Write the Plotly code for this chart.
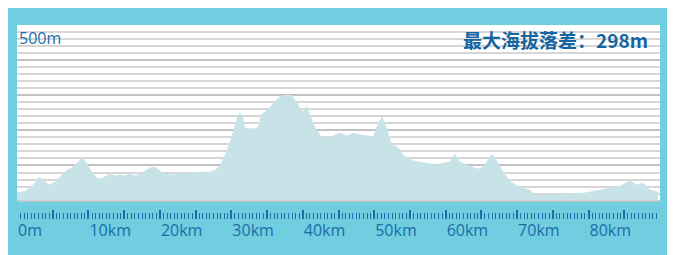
import plotly.graph_objects as go

# distance along route (km) and elevation (m)
dist_km = [0, 1.12, 1.82, 2.52, 3.08, 3.78, 4.48, 5.32, 6.30, 7.00, 7.70, 8.40, 9.24, 9.80,
           10.50, 11.20, 11.76, 12.46, 13.02, 13.72, 14.42, 15.12, 15.82, 16.52, 17.22, 17.92,
           18.62, 19.32, 20.02, 20.72, 21.42, 22.82, 24.22, 25.62, 27.02, 27.72, 28.42, 29.12,
           29.82, 30.51, 30.93, 31.21, 31.63, 31.91, 32.61, 33.31, 33.73, 34.15, 34.71, 35.13,
           35.69, 36.25, 36.81, 37.51, 38.49, 38.91, 39.61, 40.03, 40.59, 41.01, 41.71, 42.41,
           42.83, 43.81, 45.21, 46.19, 47.03, 48.01, 49.41, 49.83, 50.53, 51.09, 51.51, 51.93,
           52.49, 53.19, 53.61, 54.03, 54.59, 55.43, 56.41, 57.39, 58.79, 59.63, 60.61, 61.31,
           62.01, 62.99, 64.53, 65.23, 66.49, 67.33, 68.31, 69.29, 70.69, 71.81, 72.51, 74.89,
           79.51, 84.13, 85.81, 86.79, 87.63, 88.61, 89.73]
elev_m = [23, 28, 37, 51, 68, 57, 45, 54, 74, 88, 94, 108, 125, 105,
          82, 65, 63, 71, 77, 71, 74, 71, 77, 71, 77, 85,
          94, 97, 85, 77, 74, 77, 80, 82, 82, 88, 102, 131,
          168, 216, 244, 250, 239, 207, 205, 205, 210, 244, 253, 264,
          273, 287, 298, 301, 301, 287, 264, 253, 270, 244, 210, 188,
          179, 182, 193, 185, 193, 188, 185, 182, 222, 239, 222, 193,
          159, 153, 145, 131, 122, 114, 111, 108, 102, 108, 111, 134,
          111, 102, 91, 97, 134, 108, 74, 51, 37, 31, 17, 17,
          23, 40, 57, 45, 51, 31, 26]

tick_vals = [0, 5, 10, 15, 20, 25, 30, 35, 40, 45, 50, 55, 60, 65, 70, 75, 80, 85, 90]
tick_text = ["0m", "", "10km", "", "20km", "", "30km", "", "40km", "", "50km", "",
             "60km", "", "70km", "", "80km", "", ""]

title_text = "最大海拔落差：298m"
top_label = "500m"

BG = "#70cee0"
BLUE = "#1b6da6"
FILL = "#c8e3e8"

fig = go.Figure()
fig.add_trace(go.Scatter(
    x=dist_km, y=elev_m, mode="lines", fill="tozeroy",
    line=dict(width=0, color=FILL), fillcolor=FILL, hoverinfo="skip",
))

fig.add_shape(type="rect", xref="x domain", yref="y domain", x0=0, x1=1, y0=0, y1=1,
              fillcolor="white", line=dict(width=0), layer="below")

fig.add_annotation(text=top_label, xref="x domain", yref="y domain", x=0.0, y=1.0,
                   xanchor="left", yanchor="top", showarrow=False,
                   font=dict(family="Open Sans", size=16, color=BLUE), yshift=0)
fig.add_annotation(text="<b>" + title_text + "</b>", xref="x domain", yref="y domain",
                   x=0.985, y=1.0, xanchor="right", yanchor="top", showarrow=False,
                   font=dict(family="Noto Sans CJK SC", size=19, color="#1565a0"), yshift=1)

fig.update_layout(
    width=667, height=247,
    margin=dict(l=9, r=15, t=17, b=36, pad=0),
    paper_bgcolor=BG, plot_bgcolor="rgba(0,0,0,0)",
    showlegend=False,
    xaxis=dict(
        range=[0, 90], anchor="free", position=0, showgrid=False, zeroline=False,
        showline=False, ticks="inside", ticklen=9, tickwidth=2, tickcolor=BLUE,
        tickmode="array", tickvals=tick_vals, ticktext=tick_text,
        ticklabelposition="outside right",
        tickfont=dict(family="Open Sans", size=16, color=BLUE),
        minor=dict(tickmode="linear", tick0=0, dtick=0.5, ticks="inside", ticklen=6,
                   tickwidth=1, tickcolor=BLUE, showgrid=False),
    ),
    yaxis=dict(
        range=[-4, 500], domain=[0.0876, 1], showticklabels=False, ticks="",
        zeroline=False, showline=False, dtick=100, showgrid=True,
        gridcolor="#c2c2c2", gridwidth=1.5,
        minor=dict(dtick=20, showgrid=True, gridcolor="#d6d6d6", gridwidth=1.5),
    ),
)

fig.write_html("out.html")
